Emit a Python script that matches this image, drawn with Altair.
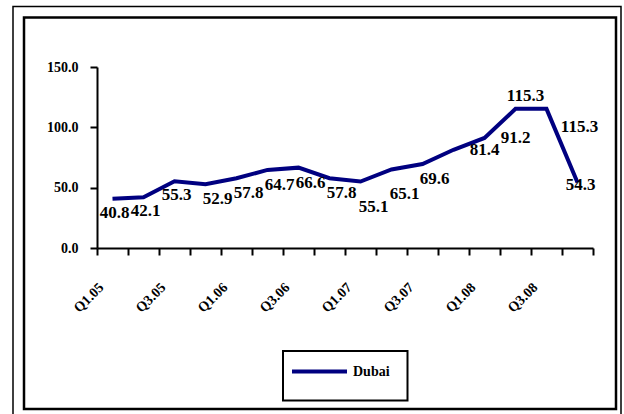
import altair as alt
import pandas as pd

# Quarterly index values for Dubai
quarters = ["Q1.05", "Q2.05", "Q3.05", "Q4.05", "Q1.06", "Q2.06", "Q3.06", "Q4.06",
            "Q1.07", "Q2.07", "Q3.07", "Q4.07", "Q1.08", "Q2.08", "Q3.08", "Q4.08"]
values = [40.8, 42.1, 55.3, 52.9, 57.8, 64.7, 66.6, 57.8,
          55.1, 65.1, 69.6, 81.4, 91.2, 115.3, 115.3, 54.3]
# Where each data label sits relative to its point
label_place = ["below", "below", "below", "below-right", "below-right", "below-right",
               "below-right", "below-right", "low-right", "low-right", "below-right",
               "right", "right", "above", "right-low", "center"]
series_name = "Dubai"

# Pixel nudges for each label placement
place_offsets = {
    "below": (2, 14),
    "below-right": (12, 15),
    "low-right": (13, 25),
    "right": (31, 0),
    "above": (10, -13),
    "right-low": (33, 18),
    "center": (3, 3),
}

df = pd.DataFrame({
    "quarter": quarters,
    "value": values,
    "place": label_place,
    "series": series_name,
})
df["pos"] = df.index + 0.5  # centre of each quarter slot

FONT = "Liberation Serif"
NAVY = "#000080"
W, H = 496, 181
PAD = {"left": 97, "top": 67, "right": 31, "bottom": 166}

quarter_js = "[" + ",".join(f"'{q}'" for q in quarters) + "]"
label_expr = (f"(datum.value % 2 == 0 && datum.value < {len(quarters)}) ? "
              f"{quarter_js}[datum.value] : ''")

x_enc = alt.X(
    "pos:Q",
    scale=alt.Scale(domain=[0, len(quarters)], nice=False, zero=False),
    axis=alt.Axis(
        values=list(range(len(quarters) + 1)),
        labelExpr=label_expr,
        labelAngle=-45,
        labelAlign="right",
        labelBaseline="middle",
        labelOffset=4,
        labelPadding=30,
        labelOverlap=False,
        labelFlush=False,
        labelBound=False,
        labelFont=FONT,
        labelFontWeight="bold",
        labelFontSize=14,
        labelColor="black",
        tickSize=7,
        tickColor="black",
        tickWidth=2,
        domainColor="black",
        domainWidth=2,
        grid=False,
        title=None,
    ),
)
y_enc = alt.Y(
    "value:Q",
    scale=alt.Scale(domain=[0, 150], nice=False),
    axis=alt.Axis(
        values=[0, 50, 100, 150],
        format=".1f",
        labelFont=FONT,
        labelFontWeight="bold",
        labelFontSize=14,
        labelColor="black",
        labelPadding=12,
        tickSize=7,
        tickColor="black",
        tickWidth=2,
        domainColor="black",
        domainWidth=2,
        grid=False,
        title=None,
    ),
)

base = alt.Chart(df).encode(x=x_enc, y=y_enc)

line = base.mark_line(strokeWidth=4, strokeJoin="miter").encode(
    color=alt.Color(
        "series:N",
        scale=alt.Scale(range=[NAVY]),
        legend=alt.Legend(
            orient="none",
            legendX=193,
            legendY=275,
            title=None,
            symbolType="stroke",
            symbolStrokeWidth=4,
            symbolSize=3025,
            labelFont=FONT,
            labelFontWeight="bold",
            labelFontSize=14,
            labelColor="black",
            labelOffset=4,
            padding=0,
        ),
    )
)

label_layers = []
for place, (ddx, ddy) in place_offsets.items():
    label_layers.append(
        base.transform_filter(alt.datum.place == place)
        .mark_text(font=FONT, fontWeight="bold", fontSize=17, color="black",
                   align="center", baseline="middle", dx=ddx, dy=ddy)
        .encode(text=alt.Text("value:Q", format=".1f"))
    )

# Decorative frames: outer border, inner border, and legend box
deco = alt.Data(values=[{"k": 0}])


def frame(x0, x1, y0, y1, width):
    return alt.Chart(deco).mark_rect(
        fillOpacity=0, stroke="black", strokeWidth=width
    ).encode(
        x=alt.value(x0), x2=alt.value(x1), y=alt.value(y0), y2=alt.value(y1)
    )


outer = frame(13 - PAD["left"], 621 - PAD["left"], 6.5 - PAD["top"], 418 - PAD["top"], 1.5)
inner = frame(24 - PAD["left"], 616 - PAD["left"], 17.5 - PAD["top"], 409 - PAD["top"], 2.5)
legend_box = frame(283 - PAD["left"], 407.5 - PAD["left"], 351 - PAD["top"], 400.5 - PAD["top"], 2)

chart = alt.layer(outer, inner, legend_box, line, *label_layers).properties(
    width=W,
    height=H,
    autosize=alt.AutoSizeParams(type="none"),
    padding=PAD,
    background="white",
).configure_view(stroke=None)

chart.save("out.html", embed_options={"renderer": "svg", "actions": False})
